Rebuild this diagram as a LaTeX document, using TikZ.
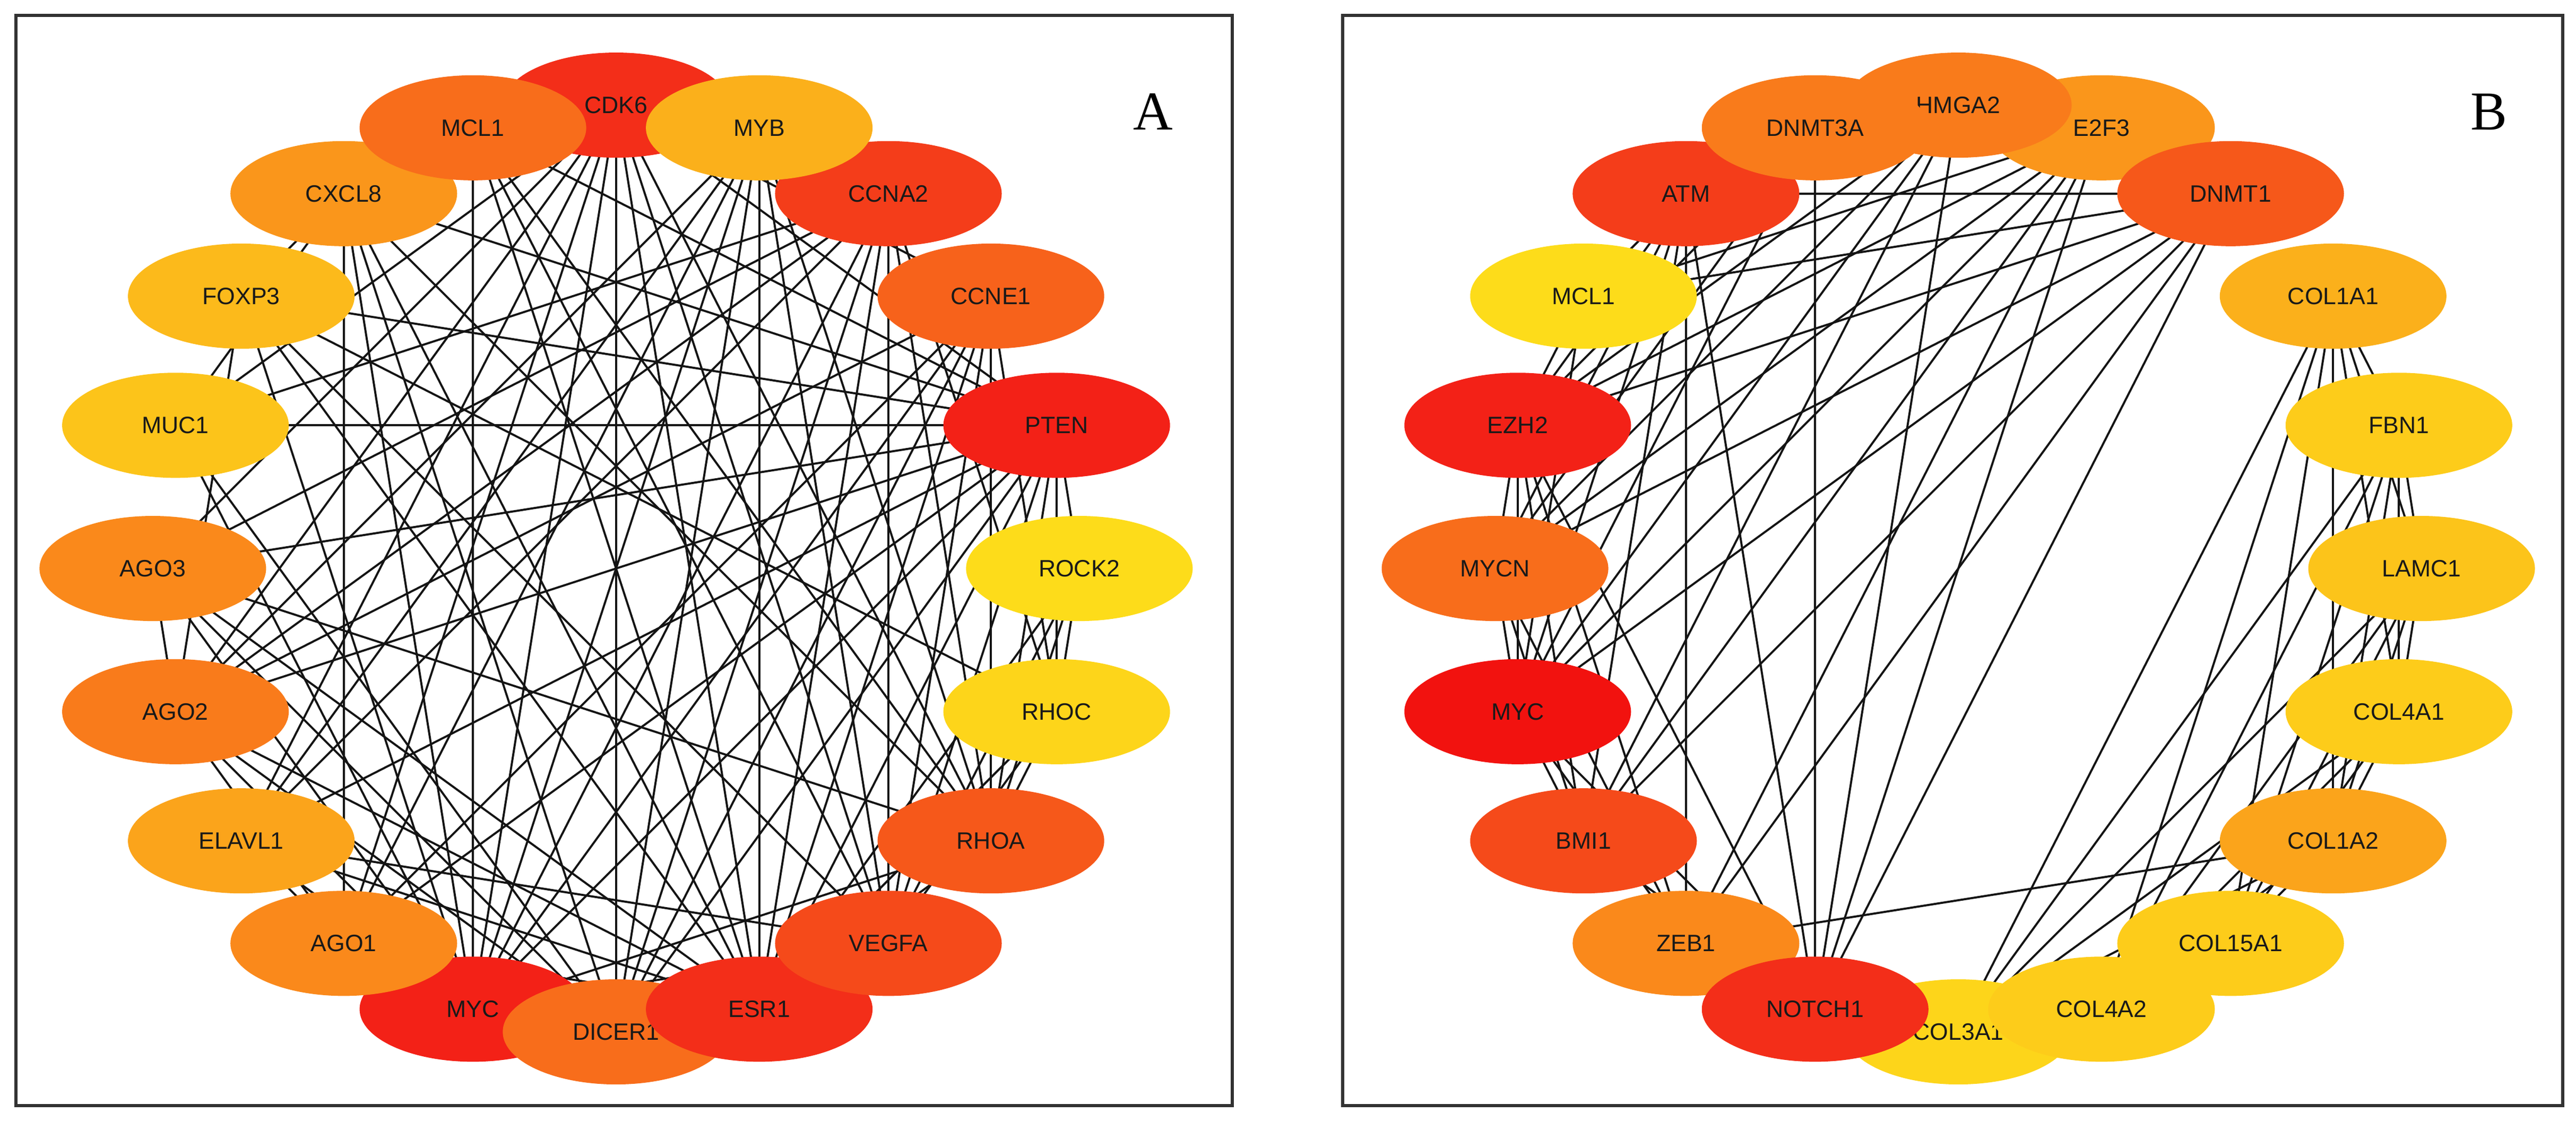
\documentclass[tikz,border=0pt]{standalone}
\usepackage{fontspec}
\setmainfont{Liberation Serif}
\newfontfamily\genefont{Liberation Sans}
\usetikzlibrary{shapes.geometric, backgrounds}

% node colours, from the deepest red to the palest yellow
\definecolor{lv0}{HTML}{F2120F}
\definecolor{lv1}{HTML}{F32117}
\definecolor{lv2}{HTML}{F32E19}
\definecolor{lv3}{HTML}{F43D1A}
\definecolor{lv4}{HTML}{F54A1A}
\definecolor{lv5}{HTML}{F6581A}
\definecolor{lv6}{HTML}{F7621B}
\definecolor{lv7}{HTML}{F86D1B}
\definecolor{lv8}{HTML}{F97B1B}
\definecolor{lv9}{HTML}{FA891B}
\definecolor{lv10}{HTML}{FA961B}
\definecolor{lv11}{HTML}{FBA41B}
\definecolor{lv12}{HTML}{FBB01B}
\definecolor{lv13}{HTML}{FCBA1B}
\definecolor{lv14}{HTML}{FCC41A}
\definecolor{lv15}{HTML}{FDCC1A}
\definecolor{lv16}{HTML}{FDD51A}
\definecolor{lv17}{HTML}{FDDC1A}

\tikzset{
  gene/.style={ellipse, minimum width=2.76cm, minimum height=1.28cm, inner sep=0pt,
    font=\genefont\fontsize{8.2}{10}\selectfont, text=black!90},
  link/.style={line width=0.72pt, black!92},
  panel/.style={draw=black!80, line width=1.1pt},
  tag/.style={font=\fontsize{19}{20}\selectfont}
}

\begin{document}
\begin{tikzpicture}[x=0.02cm, y=0.02cm]
\useasboundingbox (0,0) rectangle (1568,682);
\draw[panel] (9.7,9) rectangle (750,672.5);
\draw[panel] (817.4,9) rectangle (1560,672.5);
\node[tag] (tagA) at (702,614) {A};
\node[tag] (tagB) at (1515,614) {B};

% panel A
\begin{scope}[shift={(375,336)}]
  \node[gene, fill=lv2] (aCDK6) at (90:282) {CDK6};
  \node[gene, fill=lv3] (aCCNA2) at (54:282) {CCNA2};
  \node[gene, fill=lv10] (aCXCL8) at (126:282) {CXCL8};
  \node[gene, fill=lv1] (aMYC) at (252:282) {MYC};
  \node[gene, fill=lv7] (aMCL1) at (108:282) {MCL1};
  \node[gene, fill=lv12] (aMYB) at (72:282) {MYB};
  \node[gene, fill=lv6] (aCCNE1) at (36:282) {CCNE1};
  \node[gene, fill=lv1] (aPTEN) at (18:282) {PTEN};
  \node[gene, fill=lv17] (aROCK2) at (0:282) {ROCK2};
  \node[gene, fill=lv16] (aRHOC) at (342:282) {RHOC};
  \node[gene, fill=lv5] (aRHOA) at (324:282) {RHOA};
  \node[gene, fill=lv13] (aFOXP3) at (144:282) {FOXP3};
  \node[gene, fill=lv14] (aMUC1) at (162:282) {MUC1};
  \node[gene, fill=lv9] (aAGO3) at (180:282) {AGO3};
  \node[gene, fill=lv8] (aAGO2) at (198:282) {AGO2};
  \node[gene, fill=lv11] (aELAVL1) at (216:282) {ELAVL1};
  \node[gene, fill=lv9] (aAGO1) at (234:282) {AGO1};
  \node[gene, fill=lv7] (aDICER1) at (270:282) {DICER1};
  \node[gene, fill=lv2] (aESR1) at (288:282) {ESR1};
  \node[gene, fill=lv4] (aVEGFA) at (306:282) {VEGFA};
\end{scope}

% panel B
\begin{scope}[shift={(1192,336)}]
  \node[gene, fill=lv3] (bATM) at (126:282) {ATM};
  \node[gene, fill=lv10] (bE2F3) at (72:282) {E2F3};
  \node[gene, fill=lv8] (bHMGA2) at (90:282) {HMGA2};
  \node[gene, fill=lv8] (bDNMT3A) at (108:282) {DNMT3A};
  \node[gene, fill=lv5] (bDNMT1) at (54:282) {DNMT1};
  \node[gene, fill=lv12] (bCOL1A1) at (36:282) {COL1A1};
  \node[gene, fill=lv15] (bFBN1) at (18:282) {FBN1};
  \node[gene, fill=lv14] (bLAMC1) at (0:282) {LAMC1};
  \node[gene, fill=lv15] (bCOL4A1) at (342:282) {COL4A1};
  \node[gene, fill=lv11] (bCOL1A2) at (324:282) {COL1A2};
  \node[gene, fill=lv16] (bCOL3A1) at (270:282) {COL3A1};
  \node[gene, fill=lv15] (bCOL4A2) at (288:282) {COL4A2};
  \node[gene, fill=lv15] (bCOL15A1) at (306:282) {COL15A1};
  \node[gene, fill=lv17] (bMCL1) at (144:282) {MCL1};
  \node[gene, fill=lv1] (bEZH2) at (162:282) {EZH2};
  \node[gene, fill=lv7] (bMYCN) at (180:282) {MYCN};
  \node[gene, fill=lv0] (bMYC) at (198:282) {MYC};
  \node[gene, fill=lv4] (bBMI1) at (216:282) {BMI1};
  \node[gene, fill=lv9] (bZEB1) at (234:282) {ZEB1};
  \node[gene, fill=lv2] (bNOTCH1) at (252:282) {NOTCH1};
\end{scope}

% interactions, behind the genes
\begin{scope}[on background layer]
  \foreach \u/\v in {aCDK6/aDICER1, aCDK6/aMYC, aCDK6/aAGO1, aCDK6/aELAVL1, aCDK6/aAGO2,
      aCDK6/aAGO3, aCDK6/aESR1, aCDK6/aVEGFA, aCDK6/aRHOA, aCDK6/aPTEN, aCDK6/aCCNE1,
      aCDK6/aMUC1, aPTEN/aMUC1, aPTEN/aFOXP3, aPTEN/aCXCL8, aPTEN/aMCL1, aPTEN/aAGO3,
      aPTEN/aAGO2, aPTEN/aELAVL1, aPTEN/aAGO1, aPTEN/aMYC, aPTEN/aDICER1, aPTEN/aROCK2,
      aPTEN/aRHOC, aPTEN/aRHOA, aPTEN/aVEGFA, aPTEN/aESR1, aMYC/aMCL1, aMYC/aMYB,
      aMYC/aCCNA2, aMYC/aCCNE1, aMYC/aCXCL8, aMYC/aFOXP3, aMYC/aMUC1, aMYC/aAGO3,
      aMYC/aAGO2, aMYC/aELAVL1, aMYC/aRHOA, aMYC/aVEGFA, aMYC/aESR1, aESR1/aMYB,
      aESR1/aMCL1, aESR1/aCXCL8, aESR1/aCCNA2, aESR1/aCCNE1, aESR1/aROCK2, aESR1/aRHOC,
      aESR1/aRHOA, aESR1/aAGO1, aESR1/aAGO2, aESR1/aELAVL1, aESR1/aFOXP3, aESR1/aAGO3,
      aCCNA2/aVEGFA, aCCNA2/aELAVL1, aCCNA2/aAGO2, aCCNA2/aDICER1,
      aCCNA2/aRHOA, aCCNA2/aRHOC, aCCNA2/aMUC1, aCCNA2/aAGO3, aCCNE1/aRHOA, aCCNE1/aAGO1,
      aCCNE1/aAGO2, aCCNE1/aDICER1, aCCNE1/aRHOC, aCCNE1/aVEGFA, aRHOA/aMYB,
      aRHOA/aROCK2, aRHOA/aRHOC, aFOXP3/aVEGFA, aRHOA/aMCL1, aCXCL8/aRHOA, aVEGFA/aMYB,
      aVEGFA/aROCK2, aVEGFA/aRHOC, aVEGFA/aELAVL1, aVEGFA/aMCL1, aDICER1/aMUC1,
      aDICER1/aAGO3, aDICER1/aAGO2, aDICER1/aCXCL8, aDICER1/aMYB, aMYB/aAGO1, aMYB/aAGO2,
      aMYB/aELAVL1, aCXCL8/aFOXP3, aCXCL8/aMUC1, aCXCL8/aAGO1, aFOXP3/aAGO2, aAGO3/aAGO2,
      aAGO1/aAGO2, aAGO1/aELAVL1, aROCK2/aRHOC, aFOXP3/aRHOC, aAGO3/aRHOA}
    \draw[link] (\u.center) -- (\v.center);
  \foreach \u/\v in {bATM/bDNMT1, bATM/bZEB1, bDNMT3A/bNOTCH1, bHMGA2/bNOTCH1, bATM/bMCL1,
      bATM/bEZH2, bATM/bMYCN, bATM/bMYC, bATM/bBMI1, bATM/bNOTCH1, bMCL1/bEZH2,
      bMCL1/bMYC, bEZH2/bMYCN, bEZH2/bMYC, bEZH2/bBMI1, bEZH2/bZEB1, bEZH2/bNOTCH1,
      bMYCN/bMYC, bMYCN/bBMI1, bMYCN/bZEB1, bMYC/bBMI1, bMYC/bZEB1, bMYC/bNOTCH1,
      bBMI1/bNOTCH1, bHMGA2/bEZH2, bHMGA2/bMYC, bHMGA2/bMYCN, bHMGA2/bBMI1,
      bDNMT3A/bEZH2, bDNMT3A/bMYC, bDNMT3A/bMYCN, bE2F3/bMCL1, bE2F3/bEZH2, bE2F3/bMYCN,
      bE2F3/bMYC, bE2F3/bBMI1, bE2F3/bZEB1, bE2F3/bNOTCH1, bDNMT1/bMCL1, bDNMT1/bEZH2,
      bDNMT1/bMYCN, bDNMT1/bMYC, bDNMT1/bBMI1, bDNMT1/bNOTCH1, bDNMT1/bZEB1, bZEB1/bCOL1A2}
    \draw[link] (\u.center) -- (\v.center);
  % the collagen group is fully linked
  \foreach \u [count=\i] in {bCOL1A1, bFBN1, bLAMC1, bCOL4A1, bCOL1A2, bCOL15A1, bCOL4A2, bCOL3A1}
    \foreach \v [count=\j] in {bCOL1A1, bFBN1, bLAMC1, bCOL4A1, bCOL1A2, bCOL15A1, bCOL4A2, bCOL3A1}
      {\ifnum\j>\i \draw[link] (\u.center) -- (\v.center); \fi}
\end{scope}
\end{tikzpicture}
\end{document}
